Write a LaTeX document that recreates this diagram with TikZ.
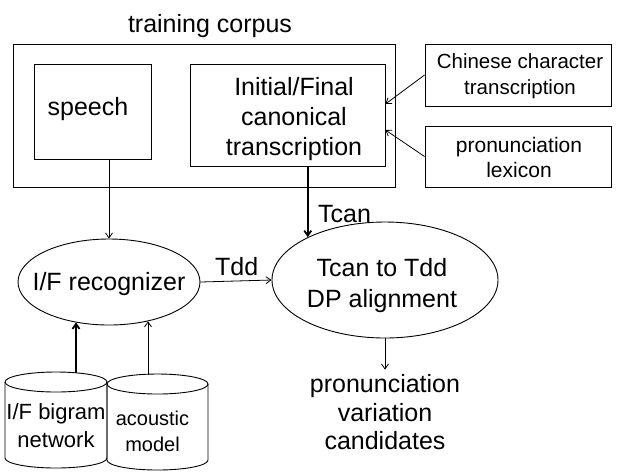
\documentclass[tikz,border=0pt]{standalone}
\usepackage{fontspec}
\setmainfont{Liberation Sans}
\usetikzlibrary{arrows.meta,shapes.geometric,calc}
\begin{document}
\begin{tikzpicture}[x=1pt,y=-1pt,
  box/.style={draw, line width=0.9pt, inner sep=0pt, rectangle},
  oval/.style={draw, line width=0.9pt, inner sep=0pt, ellipse},
  txt/.style={inner sep=0pt, align=center},
  arr/.style={-{Straight Barb[length=5pt,width=7pt]}, line width=0.8pt},
  thickarr/.style={-{Straight Barb[length=5pt,width=7pt]}, line width=1.8pt},
  cyl/.style={line width=0.9pt},
  fbig/.style={font=\fontsize{25}{30}\selectfont}]
\useasboundingbox (0,0) rectangle (617,475);
\fill[white] (0,0) rectangle (617,475);

% title
\node[txt, fbig, anchor=base] (title) at (210,32) {training corpus};

% boxes
\node[box, minimum width=382pt, minimum height=143pt] (corpus) at (204,115.5) {};
\node[box, minimum width=117pt, minimum height=95pt] (speech) at (92.5,111.5) {};
\node[box, minimum width=195pt, minimum height=102pt] (ifbox) at (287.5,115) {};
\node[box, minimum width=186pt, minimum height=62pt] (chinese) at (518,75) {};
\node[box, minimum width=186pt, minimum height=61pt] (lex) at (518,156.5) {};

\node[txt, fbig, anchor=base] (speechtxt) at (88,115) {speech};
\node[txt, font=\fontsize{25}{30}\selectfont] (iftxt) at (294,118.6) {Initial/Final\\canonical\\transcription};
\node[txt, font=\fontsize{20.5}{26}\selectfont] (chtxt) at (520,76.6) {Chinese character\\transcription};
\node[txt, font=\fontsize{21}{25}\selectfont] (lextxt) at (519,157) {pronunciation\\lexicon};

% ellipses
\node[oval, minimum width=182pt, minimum height=86pt] (ifr) at (109,282) {};
\node[oval, minimum width=226pt, minimum height=116pt] (dp) at (385,280) {};
\node[txt, fbig, anchor=base] (ifrtxt) at (109,290) {I/F recognizer};
\node[txt, font=\fontsize{25}{31}\selectfont] (dptxt) at (382,286) {Tcan to Tdd\\DP alignment};

% labels
\node[txt, fbig, anchor=base west] (tcan) at (318,222) {Tcan};
\node[txt, fbig, anchor=base west] (tdd) at (215,275) {Tdd};

% candidates
\node[txt, font=\fontsize{25}{28.5}\selectfont] (cand) at (385,412.5) {pronunciation\\variation\\candidates};

% cylinders
\draw[cyl] (5,382) -- (5,458) arc[start angle=180,end angle=0,x radius=51,y radius=10] -- (107,382);
\draw[cyl] (56,382) ellipse [x radius=51, y radius=10];
\draw[cyl] (107,384) -- (107,460) arc[start angle=180,end angle=0,x radius=50.5,y radius=10] -- (208,384);
\draw[cyl] (157.5,384) ellipse [x radius=50.5, y radius=10];
\coordinate (bgtop) at (76,373);
\coordinate (actop) at (148,375);
\node[txt, font=\fontsize{22}{28}\selectfont] (bgtxt) at (56,426) {I/F bigram\\network};
\node[txt, font=\fontsize{20}{26}\selectfont] (actxt) at (152.5,431) {acoustic\\model};

% connectors
\draw[arr] (chinese.west) -- ($(ifbox.east)+(0,-11)$);
\draw[arr] (lex.west) -- ($(ifbox.east)+(0,15)$);
\draw[arr] (speech.south -| ifr.north) -- (ifr.north);
\draw[thickarr] (ifbox.south -| dp.151.7) -- (dp.151.7);
\draw[arr] (ifr.east) -- (dp.west);
\draw[arr] (dp.south) -- ($(cand.north)+(0,-5)$);
\draw[thickarr] (bgtop) -- (bgtop |- ifr.230.5);
\draw[arr] (actop) -- (actop |- ifr.315);
\end{tikzpicture}
\end{document}
